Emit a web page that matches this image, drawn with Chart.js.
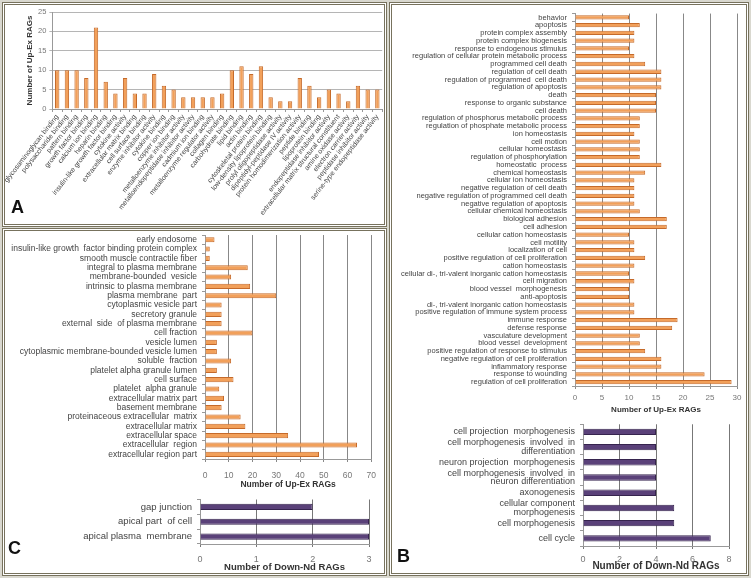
<!DOCTYPE html>
<html>
<head>
<meta charset="utf-8">
<script src="https://cdn.jsdelivr.net/npm/chart.js@4.4.0/dist/chart.umd.min.js"></script>
<style>
body{margin:0;width:751px;height:578px;background:#d9d8cf;position:relative;overflow:hidden;font-family:"Liberation Sans",Arial,sans-serif}
.panel{position:absolute;background:#fff;border:3px double #77725d;box-sizing:border-box}
canvas{position:absolute}
.lab{position:absolute;font-weight:bold;font-size:18px;color:#111;line-height:18px}
</style>
</head>
<body>
<div class="panel" style="left:2px;top:2px;width:385px;height:225px"></div>
<div class="panel" style="left:2px;top:228px;width:385px;height:348px"></div>
<div class="panel" style="left:389px;top:2px;width:360px;height:574px"></div>

<canvas id="chartA" width="381" height="220" style="left:4px;top:4px"></canvas>
<canvas id="chartBUp" width="356" height="410" style="left:390px;top:5px"></canvas>
<canvas id="chartBDown" width="356" height="157" style="left:390px;top:415px"></canvas>
<canvas id="chartCUp" width="381" height="264" style="left:4px;top:226px"></canvas>
<canvas id="chartCDown" width="381" height="83" style="left:4px;top:490px"></canvas>

<div class="lab" style="left:11px;top:198px">A</div>
<div class="lab" style="left:397px;top:547px">B</div>
<div class="lab" style="left:8px;top:539px">C</div>

<script>
// A: molecular function, up-expressed
const aLabels = ['glycosaminoglycan binding', 'polysaccharide binding', 'pattern binding', 'growth factor binding',
  'calcium ion binding', 'heparin binding', 'insulin-like growth factor binding', 'cytokine activity',
  'extracellular matrix binding', 'cell surface binding', 'enzyme inhibitor activity', 'cytokine binding',
  'copper ion binding', 'metalloenzyme inhibitor activity', 'metalloendopeptidase inhibitor activity',
  'cadmium ion binding', 'metalloenzyme regulator activity', 'collagen binding', 'carbohydrate binding',
  'lipid binding', 'actin binding', 'cytoskeletal protein binding', 'low-density lipoprotein binding',
  'prolyl oligopeptidase activity', 'dipeptidyl-peptidase IV activity', 'protein homodimerization activity',
  'peptide binding', 'lipoprotein binding', 'endopeptidase inhibitor activity',
  'extracellular matrix structural constituent', 'amine oxidase activity', 'electron carrier activity',
  'peptidase inhibitor activity', 'serine-type endopeptidase activity'];
const aValues = [10, 10, 10, 8, 21, 7, 4, 8, 4, 4, 9, 6, 5, 3, 3, 3, 3, 4, 10, 11, 9, 11, 3, 2, 2, 8, 6, 3, 5, 4, 2, 6, 5, 5];

// B: biological process
const bUpLabels = ['behavior', 'apoptosis', 'protein complex assembly', 'protein complex biogenesis',
  'response to endogenous stimulus', 'regulation of cellular protein metabolic process', 'programmed cell death',
  'regulation of cell death', 'regulation of programmed  cell death', 'regulation of apoptosis', 'death',
  'response to organic substance', 'cell death', 'regulation of phosphorus metabolic process',
  'regulation of phosphate metabolic process', 'ion homeostasis', 'cell motion', 'cellular homeostasis',
  'regulation of phosphorylation', 'homeostatic  process', 'chemical homeostasis', 'cellular ion homeostasis',
  'negative regulation of cell death', 'negative regulation of programmed cell death',
  'negative regulation of apoptosis', 'cellular chemical homeostasis', 'biological adhesion', 'cell adhesion',
  'cellular cation homeostasis', 'cell motility', 'localization of cell', 'positive regulation of cell proliferation',
  'cation homeostasis', 'cellular di-, tri-valent inorganic cation homeostasis', 'cell migration',
  'blood vessel  morphogenesis', 'anti-apoptosis', 'di-, tri-valent inorganic cation homeostasis',
  'positive regulation of immune system process', 'immune response', 'defense response',
  'vasculature development', 'blood vessel  development', 'positive regulation of response to stimulus',
  'negative regulation of cell proliferation', 'inflammatory response', 'response to wounding',
  'regulation of cell proliferation'];
const bUpValues = [10, 12, 11, 11, 10, 11, 13, 16, 16, 16, 15, 15, 15, 12, 12, 11, 12, 12, 12, 16, 13, 11, 11, 11,
  11, 12, 17, 17, 10, 11, 11, 13, 11, 10, 11, 10, 10, 11, 11, 19, 18, 12, 12, 13, 16, 16, 24, 29];

const bDownLabels = ['cell projection  morphogenesis', ['cell morphogenesis  involved  in', 'differentiation'],
  'neuron projection  morphogenesis', ['cell morphogenesis  involved  in', 'neuron differentiation'],
  'axonogenesis', ['cellular component', 'morphogenesis'], 'cell morphogenesis', 'cell cycle'];
const bDownValues = [4, 4, 4, 4, 4, 5, 5, 7];

// C: cellular component
const cUpLabels = ['early endosome', 'insulin-like growth  factor binding protein complex', 'smooth muscle contractile fiber',
  'integral to plasma membrane', 'membrane-bounded  vesicle', 'intrinsic to plasma membrane', 'plasma membrane  part',
  'cytoplasmic vesicle part', 'secretory granule', 'external  side  of plasma membrane', 'cell fraction', 'vesicle lumen',
  'cytoplasmic membrane-bounded vesicle lumen', 'soluble  fraction', 'platelet alpha granule lumen', 'cell surface',
  'platelet  alpha granule', 'extracellular matrix part', 'basement membrane', 'proteinaceous extracellular  matrix',
  'extracellular matrix', 'extracellular space', 'extracellular  region', 'extracellular region part'];
const cUpValues = [4, 2, 2, 18, 11, 19, 30, 7, 7, 7, 20, 5, 5, 11, 5, 12, 6, 8, 7, 15, 17, 35, 64, 48];

const cDownLabels = ['gap junction', 'apical part  of cell', 'apical plasma  membrane'];
const cDownValues = [2, 3, 3];

const font = '"Liberation Sans", Arial, sans-serif';
Chart.defaults.font.family = font;
Chart.defaults.animation = false;

const orange = '#f2a05a', orangeEdge = '#c56a2a';
const purple = '#5a4179', purpleEdge = '#36244e';

// bar chart A (vertical)
new Chart(document.getElementById('chartA'), {
  type: 'bar',
  data: {
    labels: aLabels,
    datasets: [{ data: aValues, backgroundColor: orange, borderColor: orangeEdge, borderWidth: 1,
      barPercentage: 0.45, categoryPercentage: 1 }]
  },
  options: {
    responsive: false,
    layout: { padding: { top: 8, right: 2, left: 18, bottom: 0 } },
    plugins: { legend: { display: false }, tooltip: { enabled: false } },
    scales: {
      x: {
        ticks: { autoSkip: false, minRotation: 52, maxRotation: 52, color: '#444', font: { size: 7 }, padding: 1 },
        grid: { drawOnChartArea: false, tickLength: 3, offset: true, color: '#999' },
        border: { color: '#999' },
        afterFit: s => { s.height = 115; }
      },
      y: {
        min: 0, max: 25,
        ticks: { stepSize: 5, color: '#777', font: { size: 7.5 }, padding: 3 },
        grid: { color: '#b5b5b5', tickLength: 3 },
        border: { color: '#999' },
        title: { display: true, text: 'Number of Up-Ex RAGs', color: '#333', font: { size: 8, weight: 'bold' }, padding: { top: 3, bottom: 2 } },
        afterFit: s => { s.width = 30; }
      }
    }
  }
});

// horizontal bar charts
function hbar(id, labels, values, o) {
  new Chart(document.getElementById(id), {
    type: 'bar',
    data: {
      labels: labels,
      datasets: [{ data: values, backgroundColor: o.color, borderColor: o.edge, borderWidth: 1,
        barPercentage: o.bp, categoryPercentage: 1 }]
    },
    options: {
      indexAxis: 'y',
      responsive: false,
      layout: { padding: { top: o.top, right: o.right, left: 0, bottom: 0 } },
      plugins: { legend: { display: false }, tooltip: { enabled: false } },
      scales: {
        x: {
          min: 0, max: o.max,
          ticks: { stepSize: o.step, color: '#777', font: { size: o.tickSize }, padding: o.tickPad },
          grid: { color: o.grid, tickLength: 3 },
          border: { color: '#999' },
          title: { display: true, text: o.title, color: '#333', font: { size: o.titleSize, weight: 'bold' }, padding: { top: 1, bottom: 0 } },
          afterFit: s => { s.height = o.xh; }
        },
        y: {
          ticks: { autoSkip: false, color: '#444', font: { size: o.labSize, lineHeight: 0.95 }, padding: 5 },
          grid: { drawOnChartArea: false, tickLength: 3, offset: true, color: '#999' },
          border: { color: '#999' },
          afterFit: s => { s.width = o.yw; }
        }
      }
    }
  });
}

hbar('chartBUp', bUpLabels, bUpValues, {
  color: orange, edge: orangeEdge, bp: 0.55, top: 7, right: 9, yw: 185, xh: 29,
  max: 30, step: 5, grid: '#888', tickSize: 8, tickPad: 4, labSize: 7.5,
  title: 'Number of Up-Ex RAGs', titleSize: 8
});

hbar('chartBDown', bDownLabels, bDownValues, {
  color: purple, edge: purpleEdge, bp: 0.42, top: 7, right: 17, yw: 193, xh: 26,
  max: 8, step: 2, grid: '#777', tickSize: 9, tickPad: 5, labSize: 9,
  title: 'Number of Down-Nd RAGs', titleSize: 10
});

hbar('chartCUp', cUpLabels, cUpValues, {
  color: orange, edge: orangeEdge, bp: 0.55, top: 3, right: 6, yw: 201, xh: 31,
  max: 70, step: 10, grid: '#888', tickSize: 8.5, tickPad: 9, labSize: 8.5,
  title: 'Number of Up-Ex RAGs', titleSize: 8.5
});

hbar('chartCDown', cDownLabels, cDownValues, {
  color: purple, edge: purpleEdge, bp: 0.42, top: 7, right: 16, yw: 196, xh: 29,
  max: 3, step: 1, grid: '#777', tickSize: 9, tickPad: 7, labSize: 9.5,
  title: 'Number of Down-Nd RAGs', titleSize: 9.5
});
</script>
</body>
</html>
